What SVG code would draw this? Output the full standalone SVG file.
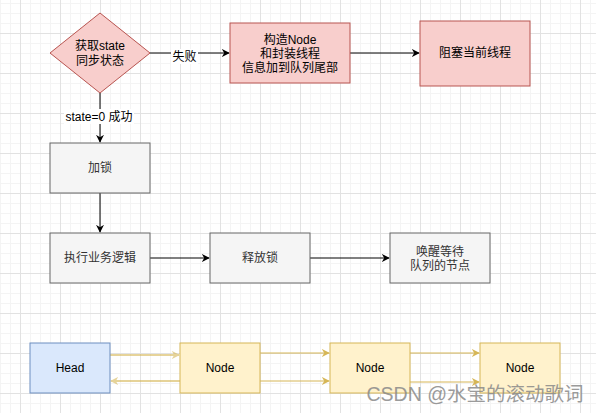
<svg xmlns="http://www.w3.org/2000/svg" width="596" height="413" viewBox="0 0 596 413">
  <defs>
    <pattern id="grid" patternUnits="userSpaceOnUse" x="20" y="33" width="40" height="40">
      <rect x="0" y="0" width="40" height="40" fill="#ffffff"/>
      <rect x="10" y="0" width="1" height="40" fill="#f4f4f4"/>
      <rect x="20" y="0" width="1" height="40" fill="#f4f4f4"/>
      <rect x="30" y="0" width="1" height="40" fill="#f4f4f4"/>
      <rect x="0" y="10" width="40" height="1" fill="#f4f4f4"/>
      <rect x="0" y="20" width="40" height="1" fill="#f4f4f4"/>
      <rect x="0" y="30" width="40" height="1" fill="#f4f4f4"/>
      <rect x="0" y="0" width="1" height="40" fill="#e2e2e2"/>
      <rect x="0" y="0" width="40" height="1" fill="#e2e2e2"/>
    </pattern>
    <marker id="arr" viewBox="0 0 10 10" refX="9" refY="5" markerWidth="8" markerHeight="8" markerUnits="userSpaceOnUse" orient="auto">
      <path d="M0,0 L10,5 L0,10 L3,5 Z" fill="#000000"/>
    </marker>
    <marker id="arrY" viewBox="0 0 10 10" refX="9" refY="5" markerWidth="8" markerHeight="8" markerUnits="userSpaceOnUse" orient="auto">
      <path d="M0,0 L10,5 L0,10 L3,5 Z" fill="#d6b656"/>
    </marker>
  </defs>
  <style>
    text { font-family: "Liberation Sans", "Noto Sans CJK SC", sans-serif; font-size: 12px; text-anchor: middle; }
    .red { fill: #f8cecc; stroke: #b85450; stroke-width: 1; }
    .gray { fill: #f5f5f5; stroke: #666666; stroke-width: 1; }
    .blue { fill: #dae8fc; stroke: #6c8ebf; stroke-width: 1; }
    .yel { fill: #fff2cc; stroke: #d6b656; stroke-width: 1; }
    .dark { fill: #000000; }
    .grayt { fill: #333333; }
    .edge { stroke: #000000; stroke-width: 1; fill: none; marker-end: url(#arr); }
    .yedge { stroke: #d6b656; stroke-width: 1; fill: none; marker-end: url(#arrY); }
    .ledge { stroke: #d6b656; stroke-width: 2; opacity: 0.6; fill: none; marker-end: url(#arrY); }
  </style>
  <rect x="0" y="0" width="596" height="413" fill="url(#grid)"/>

  <g id="connectors">
    <line class="edge" x1="150" y1="53" x2="229" y2="53"/>
    <rect x="171" y="49" width="27" height="15" fill="#ffffff"/>
    <text class="dark" x="184.5" y="61">失败</text>
    <line class="edge" x1="350" y1="53" x2="419" y2="53"/>
    <line class="edge" x1="100" y1="93" x2="100" y2="142"/>
    <rect x="64" y="109" width="70" height="15" fill="#ffffff"/>
    <text class="dark" x="99" y="120.5">state=0 成功</text>
    <line class="edge" x1="100" y1="193" x2="100" y2="232"/>
    <line class="edge" x1="150" y1="258" x2="209" y2="258"/>
    <line class="edge" x1="310" y1="258" x2="389" y2="258"/>
    <line class="ledge" x1="110" y1="355" x2="179" y2="355"/>
    <line class="ledge" x1="180" y1="381" x2="111" y2="381"/>
    <line class="yedge" x1="260" y1="353" x2="329" y2="353"/>
    <line class="yedge" x1="260" y1="381" x2="329" y2="381"/>
    <line class="yedge" x1="410" y1="353" x2="479" y2="353"/>
    <line class="yedge" x1="410" y1="382" x2="479" y2="382"/>
  </g>

  <g id="decision">
    <polygon class="red" points="100,13 150,53 100,93 50,53"/>
    <text class="dark" x="100" y="50">获取state</text>
    <text class="dark" x="100" y="65">同步状态</text>
  </g>
  <g id="enqueue">
    <rect class="red" x="230" y="23" width="120" height="60"/>
    <text class="dark" x="290" y="44">构造Node</text>
    <text class="dark" x="290" y="58">和封装线程</text>
    <text class="dark" x="290" y="72">信息加到队列尾部</text>
  </g>
  <g id="block">
    <rect class="red" x="420" y="21" width="110" height="65"/>
    <text class="dark" x="475" y="57">阻塞当前线程</text>
  </g>
  <g id="lock">
    <rect class="gray" x="50" y="143" width="100" height="50"/>
    <text class="grayt" x="100" y="172">加锁</text>
  </g>
  <g id="business">
    <rect class="gray" x="50" y="233" width="100" height="50"/>
    <text class="grayt" x="100" y="262">执行业务逻辑</text>
  </g>
  <g id="release">
    <rect class="gray" x="210" y="233" width="100" height="50"/>
    <text class="grayt" x="260" y="262">释放锁</text>
  </g>
  <g id="wakeup">
    <rect class="gray" x="390" y="233" width="100" height="50"/>
    <text class="grayt" x="440" y="256">唤醒等待</text>
    <text class="grayt" x="440" y="270">队列的节点</text>
  </g>
  <g id="head">
    <rect class="blue" x="30" y="343" width="80" height="50"/>
    <text class="dark" x="70" y="372">Head</text>
  </g>
  <g id="node1">
    <rect class="yel" x="180" y="343" width="80" height="50"/>
    <text class="dark" x="220" y="372">Node</text>
  </g>
  <g id="node2">
    <rect class="yel" x="330" y="343" width="80" height="50"/>
    <text class="dark" x="370" y="372">Node</text>
  </g>
  <g id="node3">
    <rect class="yel" x="480" y="343" width="80" height="50"/>
    <text class="dark" x="520" y="372">Node</text>
  </g>
  <text x="475" y="401" style="font-size:19.5px; fill:#8a8a8a; opacity:0.85;">CSDN @水宝的滚动歌词</text>
</svg>
